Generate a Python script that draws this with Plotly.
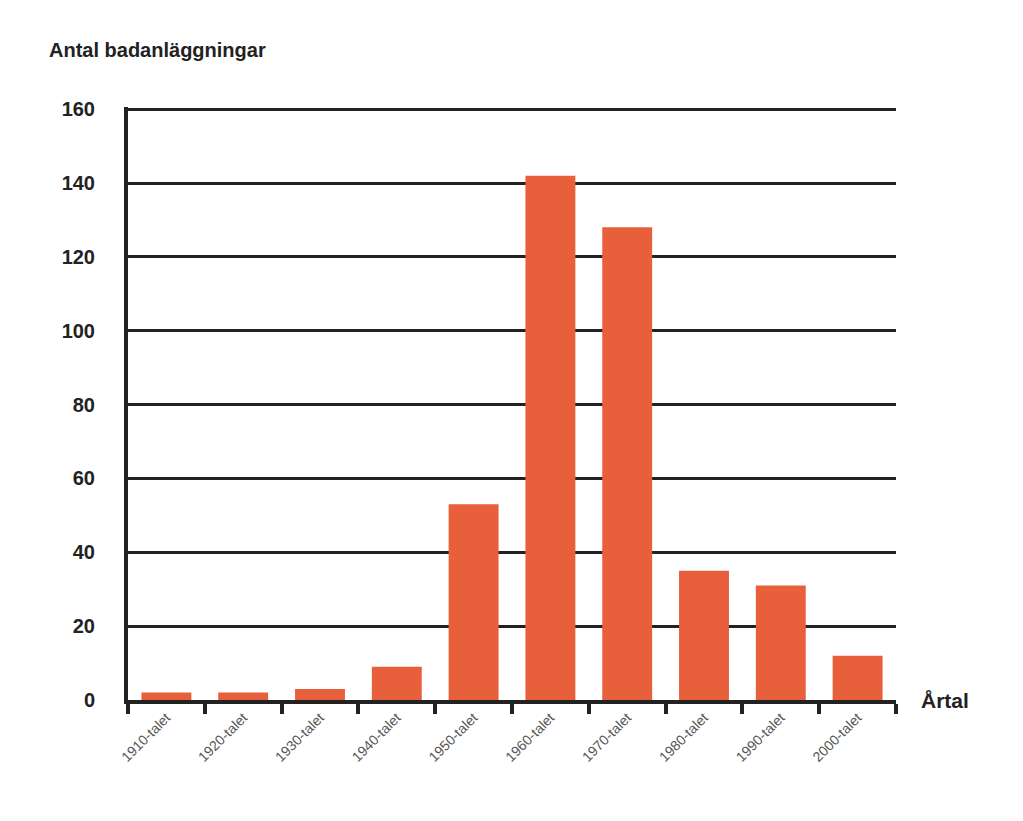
import plotly.graph_objects as go

categories = ["1910-talet","1920-talet","1930-talet","1940-talet","1950-talet",
              "1960-talet","1970-talet","1980-talet","1990-talet","2000-talet"]
values = [2, 2, 3, 9, 53, 142, 128, 35, 31, 12]
y_ticks = [0, 20, 40, 60, 80, 100, 120, 140, 160]

fig = go.Figure(go.Bar(x=categories, y=values, marker_color="#e85f3c",
                       marker_line_width=0, width=0.65))
fig.update_layout(
    width=1023, height=821, paper_bgcolor="white", plot_bgcolor="white",
    margin=dict(l=120, r=135, t=99, b=129, autoexpand=False), showlegend=False,
    font=dict(family="Liberation Sans, Arial", color="#222"),
    annotations=[
        dict(text="<b>Antal badanläggningar</b>", xref="paper", yref="paper",
             x=-0.105, y=1.075, xanchor="left", yanchor="bottom", showarrow=False,
             font=dict(size=20, color="#222")),
        dict(text="<b>Årtal</b>", xref="paper", yref="paper", x=1.03, y=0,
             xanchor="left", yanchor="middle", showarrow=False,
             font=dict(size=21, color="#222")),
    ],
)
fig.update_yaxes(range=[0, 160.6], tickvals=y_ticks, showgrid=True, gridcolor="#222",
                 gridwidth=3, zeroline=False, showline=True, linecolor="#222",
                 linewidth=4, automargin=False,
                 tickfont=dict(size=20, color="#222", weight="bold"),
                 ticklabelstandoff=25)
fig.update_xaxes(tickson="boundaries", ticks="outside", ticklen=10, tickwidth=4,
                 tickcolor="#222", showline=True, linecolor="#222", linewidth=4,
                 tickangle=-45, automargin=False,
                 tickfont=dict(size=14, color="#555"))
fig.write_html("out.html")
